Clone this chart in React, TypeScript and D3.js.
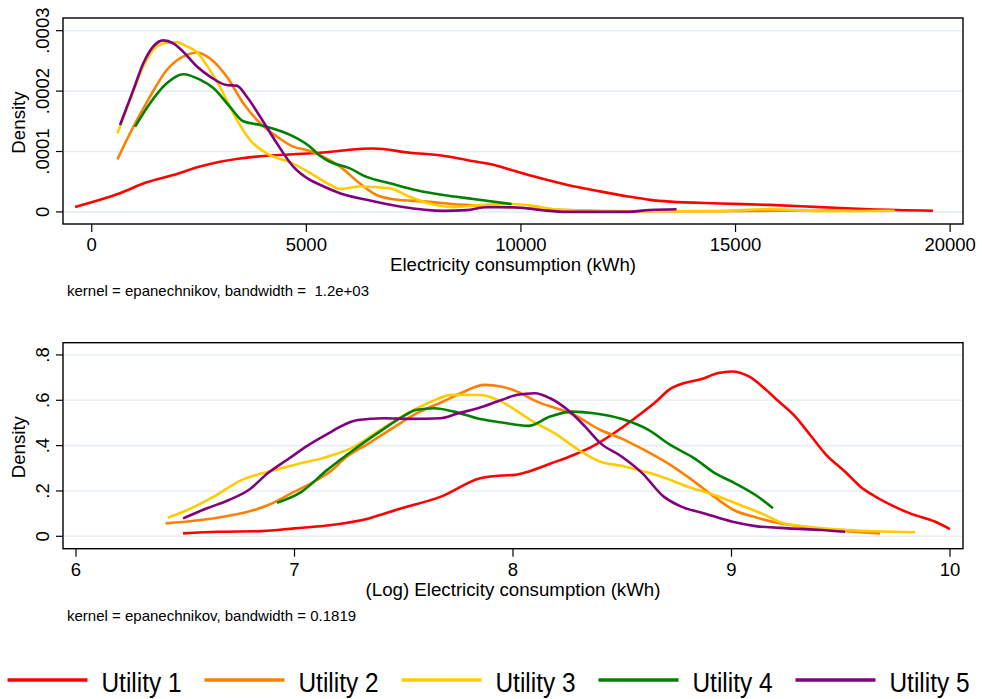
import * as d3 from 'd3';

type Pt = [number, number];

// top panel: consumption (kWh) vs density, density in units of 0.0001
const levelU1: Pt[] = [[-389, 0.08], [37, 0.17], [659, 0.31], [1281, 0.49], [1900, 0.61], [2522, 0.75], [2988, 0.83], [3454, 0.885], [4076, 0.93], [4695, 0.955], [5317, 0.98], [5627, 1.0], [6000, 1.03], [6559, 1.05], [7413, 0.98], [8189, 0.93], [8734, 0.86], [9354, 0.78], [9898, 0.67], [10441, 0.56], [11063, 0.45], [11839, 0.34], [12460, 0.26], [13003, 0.2], [13469, 0.17], [14633, 0.14], [15798, 0.116], [16962, 0.08], [18127, 0.045], [19601, 0.02]];
const levelU2: Pt[] = [[597, 0.87], [969, 1.41], [1358, 1.91], [1747, 2.35], [2213, 2.6], [2445, 2.64], [2755, 2.54], [3144, 2.24], [3531, 1.8], [3920, 1.47], [4309, 1.25], [4695, 1.08], [5084, 1.01], [5317, 0.94], [5783, 0.75], [6249, 0.47], [6638, 0.28], [7024, 0.21], [7802, 0.17], [8578, 0.12], [9354, 0.09], [10131, 0.06], [11063, 0.03], [12614, 0.01], [14500, 0.01], [16000, 0.02], [17500, 0.02]];
const levelU3: Pt[] = [[597, 1.3], [892, 1.85], [1202, 2.41], [1514, 2.74], [1747, 2.8], [1980, 2.81], [2213, 2.74], [2445, 2.65], [2678, 2.43], [2988, 2.07], [3298, 1.63], [3687, 1.19], [4076, 0.97], [4695, 0.8], [5240, 0.58], [5550, 0.45], [5783, 0.38], [6249, 0.42], [6947, 0.39], [7413, 0.25], [7802, 0.15], [8422, 0.08], [9198, 0.12], [9820, 0.13], [10286, 0.1], [10752, 0.045], [11839, 0.016], [13000, 0.01], [14600, 0.015], [15800, 0.045], [17000, 0.01], [18709, 0.02]];
const levelU4: Pt[] = [[1008, 1.41], [1358, 1.8], [1747, 2.13], [2133, 2.28], [2522, 2.19], [2832, 2.05], [3221, 1.74], [3531, 1.5], [3920, 1.44], [4309, 1.36], [4695, 1.25], [5084, 1.08], [5317, 0.93], [5550, 0.83], [6016, 0.72], [6404, 0.58], [6947, 0.475], [7569, 0.36], [8189, 0.28], [8888, 0.215], [9782, 0.13]];
const levelU5: Pt[] = [[659, 1.44], [969, 2.02], [1202, 2.46], [1435, 2.74], [1668, 2.84], [1900, 2.79], [2133, 2.65], [2445, 2.41], [2755, 2.24], [3144, 2.1], [3377, 2.09], [3610, 1.91], [3920, 1.58], [4309, 1.14], [4695, 0.75], [5084, 0.53], [5317, 0.45], [5783, 0.31], [6404, 0.2], [7180, 0.09], [8189, 0.017], [8734, 0.03], [9198, 0.078], [9820, 0.078], [10441, 0.033], [11063, 0.0], [12460, 0.0], [13003, 0.033], [13625, 0.045]];

// bottom panel: log consumption vs density
const logU1: Pt[] = [[6.49, 0.013], [6.65, 0.02], [6.85, 0.023], [7.0, 0.035], [7.17, 0.05], [7.34, 0.079], [7.49, 0.124], [7.67, 0.175], [7.85, 0.256], [7.95, 0.268], [8.01, 0.271], [8.07, 0.285], [8.17, 0.32], [8.28, 0.36], [8.37, 0.4], [8.5, 0.48], [8.57, 0.53], [8.65, 0.59], [8.72, 0.65], [8.78, 0.675], [8.86, 0.693], [8.94, 0.72], [9.0, 0.727], [9.08, 0.705], [9.15, 0.653], [9.21, 0.6], [9.29, 0.53], [9.36, 0.447], [9.43, 0.363], [9.52, 0.285], [9.59, 0.219], [9.65, 0.18], [9.72, 0.143], [9.82, 0.1], [9.93, 0.065], [10.0, 0.032]];
const logU2: Pt[] = [[6.41, 0.057], [6.51, 0.065], [6.66, 0.084], [6.79, 0.109], [6.88, 0.138], [7.0, 0.197], [7.09, 0.241], [7.17, 0.29], [7.23, 0.344], [7.34, 0.41], [7.46, 0.484], [7.56, 0.543], [7.67, 0.59], [7.76, 0.631], [7.87, 0.668], [7.95, 0.66], [8.02, 0.638], [8.11, 0.594], [8.22, 0.558], [8.28, 0.535], [8.4, 0.469], [8.5, 0.43], [8.6, 0.381], [8.72, 0.315], [8.83, 0.241], [8.92, 0.175], [9.01, 0.116], [9.11, 0.084], [9.21, 0.06], [9.35, 0.04], [9.53, 0.023], [9.68, 0.013]];
const logU3: Pt[] = [[6.42, 0.082], [6.51, 0.116], [6.63, 0.175], [6.76, 0.249], [6.88, 0.285], [7.0, 0.315], [7.15, 0.351], [7.26, 0.389], [7.37, 0.455], [7.49, 0.528], [7.61, 0.587], [7.72, 0.624], [7.85, 0.623], [7.93, 0.602], [8.01, 0.558], [8.08, 0.513], [8.19, 0.455], [8.3, 0.381], [8.4, 0.329], [8.5, 0.31], [8.68, 0.263], [8.8, 0.219], [8.92, 0.182], [9.04, 0.138], [9.14, 0.1], [9.23, 0.06], [9.35, 0.042], [9.53, 0.028], [9.84, 0.018]];
const logU4: Pt[] = [[6.92, 0.148], [7.03, 0.195], [7.15, 0.293], [7.27, 0.381], [7.38, 0.455], [7.49, 0.525], [7.56, 0.558], [7.64, 0.565], [7.73, 0.55], [7.85, 0.517], [7.95, 0.502], [8.07, 0.487], [8.17, 0.528], [8.27, 0.55], [8.37, 0.543], [8.5, 0.517], [8.62, 0.469], [8.72, 0.403], [8.83, 0.344], [8.93, 0.275], [9.01, 0.237], [9.11, 0.182], [9.19, 0.124]];
const logU5: Pt[] = [[6.49, 0.079], [6.6, 0.124], [6.7, 0.16], [6.79, 0.204], [6.88, 0.28], [6.97, 0.34], [7.06, 0.4], [7.17, 0.462], [7.21, 0.484], [7.29, 0.513], [7.41, 0.521], [7.53, 0.518], [7.67, 0.521], [7.75, 0.543], [7.84, 0.565], [7.95, 0.602], [8.02, 0.624], [8.1, 0.631], [8.17, 0.609], [8.25, 0.558], [8.33, 0.484], [8.4, 0.411], [8.5, 0.35], [8.59, 0.28], [8.69, 0.175], [8.77, 0.131], [8.88, 0.1], [9.0, 0.065], [9.11, 0.045], [9.26, 0.035], [9.41, 0.028], [9.52, 0.02]];

const utilities = ['Utility 1', 'Utility 2', 'Utility 3', 'Utility 4', 'Utility 5'];
const colors = ['#ff0000', '#ff8000', '#ffcc00', '#008000', '#800080'];

const levelXTicks = [0, 5000, 10000, 15000, 20000];
const levelYTicks = [0, 1, 2, 3];
const levelYLabels = ['0', '.0001', '.0002', '.0003'];
const logXTicks = [6, 7, 8, 9, 10];
const logYTicks = [0, 0.2, 0.4, 0.6, 0.8];
const logYLabels = ['0', '.2', '.4', '.6', '.8'];

const FONT = '"Liberation Sans", Arial, Helvetica, sans-serif';

interface PanelProps {
  top: number;
  bottom: number;
  xDomain: [number, number];
  yDomain: [number, number];
  xTicks: number[];
  yTicks: number[];
  yLabels: string[];
  series: Pt[][];
  xTitle: string;
  note: string;
}

const left = 63;
const right = 963;

function Panel({ top, bottom, xDomain, yDomain, xTicks, yTicks, yLabels, series, xTitle, note }: PanelProps) {
  const x = d3.scaleLinear().domain(xDomain).range([left, right]);
  const y = d3.scaleLinear().domain(yDomain).range([bottom, top]);
  const line = d3
    .line<Pt>()
    .x((d) => x(d[0]))
    .y((d) => y(d[1]))
    .curve(d3.curveMonotoneX);
  const mid = (left + right) / 2;

  return (
    <g>
      {yTicks.map((t) => (
        <line key={'g' + t} x1={left + 1} x2={right - 1} y1={y(t)} y2={y(t)} stroke="#e6eef2" strokeWidth={1.6} />
      ))}
      {series.map((s, i) => (
        <path key={i} d={line(s) ?? ''} fill="none" stroke={colors[i]} strokeWidth={2.6} strokeLinejoin="round" />
      ))}
      <rect x={left} y={top} width={right - left} height={bottom - top} fill="none" stroke="#000" strokeWidth={1.4} />
      {yTicks.map((t, i) => (
        <g key={'y' + t}>
          <line x1={left - 7} x2={left} y1={y(t)} y2={y(t)} stroke="#000" strokeWidth={1.2} />
          <text
            transform={`translate(48.5,${y(t)}) rotate(-90)`}
            textAnchor="middle"
            fontSize={18.5}
            fontFamily={FONT}
            fill="#000"
          >
            {yLabels[i]}
          </text>
        </g>
      ))}
      {xTicks.map((t) => (
        <g key={'x' + t}>
          <line x1={x(t)} x2={x(t)} y1={bottom} y2={bottom + 8} stroke="#000" strokeWidth={1.2} />
          <text x={x(t)} y={bottom + 27} textAnchor="middle" fontSize={18.5} fontFamily={FONT} fill="#000">
            {t}
          </text>
        </g>
      ))}
      <text
        transform={`translate(25,${(top + bottom) / 2 + 1.5}) rotate(-90)`}
        textAnchor="middle"
        fontSize={18.7}
        fontFamily={FONT}
        fill="#000"
      >
        Density
      </text>
      <text x={mid} y={bottom + 47} textAnchor="middle" fontSize={18.7} fontFamily={FONT} fill="#000">
        {xTitle}
      </text>
      <text x={67} y={bottom + 72} fontSize={15} fontFamily={FONT} fill="#000" style={{ whiteSpace: 'pre' }}>
        {note}
      </text>
    </g>
  );
}

export default function App() {
  const legendStep = 197;
  return (
    <svg
      width={982}
      height={699}
      style={{ position: 'absolute', left: 0, top: 0, background: '#fff' }}
    >
      <rect width={982} height={699} fill="#fff" />
      <Panel
        top={18}
        bottom={224}
        xDomain={[-670, 20300]}
        yDomain={[-0.2, 3.21]}
        xTicks={levelXTicks}
        yTicks={levelYTicks}
        yLabels={levelYLabels}
        series={[levelU1, levelU2, levelU3, levelU4, levelU5]}
        xTitle="Electricity consumption (kWh)"
        note="kernel = epanechnikov, bandwidth =  1.2e+03"
      />
      <Panel
        top={342.7}
        bottom={548.7}
        xDomain={[5.9405, 10.0595]}
        yDomain={[-0.0547, 0.854]}
        xTicks={logXTicks}
        yTicks={logYTicks}
        yLabels={logYLabels}
        series={[logU1, logU2, logU3, logU4, logU5]}
        xTitle="(Log) Electricity consumption (kWh)"
        note="kernel = epanechnikov, bandwidth = 0.1819"
      />
      {utilities.map((u, i) => (
        <g key={u} transform={`translate(${7.5 + i * legendStep},0)`}>
          <line x1={0} x2={80} y1={680} y2={680} stroke={colors[i]} strokeWidth={3.4} />
          <text
            x={94}
            y={691.5}
            fontSize={27.5}
            fontFamily={FONT}
            fill="#000"
            textLength={80}
            lengthAdjust="spacingAndGlyphs"
          >
            {u}
          </text>
        </g>
      ))}
    </svg>
  );
}
